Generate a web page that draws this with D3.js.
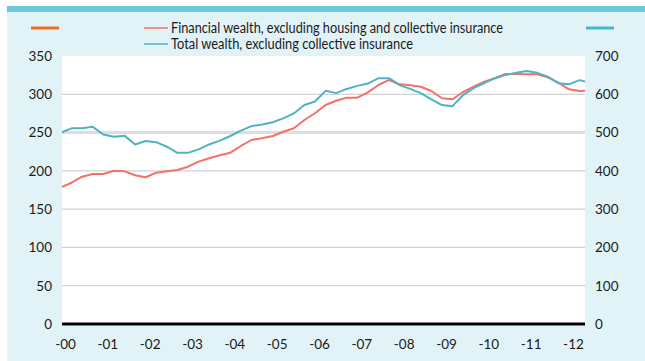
<!DOCTYPE html>
<html>
<head>
<meta charset="utf-8">
<script src="https://cdn.jsdelivr.net/npm/d3@7"></script>
<style>
  html, body { margin: 0; padding: 0; background: #ffffff; }
  svg { display: block; }
  text { font-family: Lato, "Noto Sans", sans-serif; fill: #1a1a1a; }
</style>
</head>
<body>
<svg id="chart" width="645" height="361"></svg>
<script>
// Quarterly observations, 2000 Q1 onwards
const startYear = 2000;
// Financial wealth, excluding housing and collective insurance (left axis)
const financialWealth = [
  178.5, 184.5, 192.4, 195.9, 195.9, 200.2, 199.4, 194.2, 191.6, 197.6,
  199.5, 201.1, 205.4, 212.0, 216.4, 220.3, 223.7, 232.5, 240.3, 242.5,
  245.5, 251.1, 255.6, 266.4, 275.2, 286.0, 291.6, 295.6, 295.6, 302.5,
  312.1, 318.7, 313.0, 311.7, 309.9, 304.3, 294.8, 293.5, 303.0, 310.0,
  316.4, 320.9, 326.5, 326.5, 326.3, 326.1, 322.2, 315.1, 306.5, 304.3,
  305.0
];
// Total wealth, excluding collective insurance (right axis)
const totalWealth = [
  500, 511, 511, 515, 495, 489, 492, 469, 478, 475,
  463, 447, 447, 456, 469, 479, 491, 505, 517, 521,
  527, 537, 550, 572, 581, 609, 603, 614, 622, 628,
  642, 642, 624, 614, 603, 587, 572, 569, 598, 616,
  629, 642, 650, 656, 661, 656, 646, 629, 626, 637,
  630
];
const yearTicks = [2000, 2001, 2002, 2003, 2004, 2005, 2006, 2007, 2008, 2009, 2010, 2011, 2012];
const leftTicks = [0, 50, 100, 150, 200, 250, 300, 350];
const rightTicks = [0, 100, 200, 300, 400, 500, 600, 700];
const seriesNames = [
  "Financial wealth, excluding housing and collective insurance",
  "Total wealth, excluding collective insurance"
];

const colors = {
  panel: "#e2f3f8",
  topBar: "#6cc8da",
  financial: "#f4706a",
  total: "#4fb4c0",
  leftMark: "#f36b21",
  rightMark: "#45b9cc",
  grid: "#d2d2d2"
};

const svg = d3.select("#chart");
const plot = { left: 62, right: 585, top: 56, bottom: 324 };

// Panel background and top strip
svg.append("rect").attr("x", 7).attr("y", 12).attr("width", 638).attr("height", 349)
  .attr("fill", colors.panel);
svg.append("rect").attr("x", 7).attr("y", 6).attr("width", 638).attr("height", 6)
  .attr("fill", colors.topBar);
// White plotting area
svg.append("rect").attr("x", plot.left).attr("y", plot.top)
  .attr("width", plot.right - plot.left).attr("height", 270)
  .attr("fill", "#ffffff");

const x = d3.scaleLinear().domain([2000, 2012.5]).range([61, 61 + 12.5 * 42.33]);
const yL = d3.scaleLinear().domain([0, 350]).range([plot.bottom, plot.top]);
const yR = d3.scaleLinear().domain([0, 700]).range([plot.bottom, plot.top]);

// Horizontal gridlines
svg.append("g").selectAll("line")
  .data(leftTicks.filter(v => v > 0 && v < 350))
  .join("line")
  .attr("x1", plot.left).attr("x2", plot.right)
  .attr("y1", d => yL(d)).attr("y2", d => yL(d))
  .attr("stroke", d => d === 250 ? "#dedede" : colors.grid)
  .attr("stroke-width", d => d === 250 ? 3 : 1.2);

// Left axis
const leftAxis = svg.append("g")
  .attr("transform", `translate(${plot.left},0)`)
  .call(d3.axisLeft(yL).tickValues(leftTicks).tickSize(0).tickPadding(10));
leftAxis.select(".domain").remove();
leftAxis.selectAll("text").style("font-size", "13.5px").style("font-family", "Lato, sans-serif").attr("fill", "#1a1a1a");

// Right axis
const rightAxis = svg.append("g")
  .attr("transform", `translate(${plot.right},0)`)
  .call(d3.axisRight(yR).tickValues(rightTicks).tickSize(0).tickPadding(10));
rightAxis.select(".domain").remove();
rightAxis.selectAll("text").style("font-size", "13.5px").style("font-family", "Lato, sans-serif").attr("fill", "#1a1a1a");

// Bottom axis with year labels
const bottomAxis = svg.append("g")
  .attr("transform", `translate(0,${plot.bottom})`)
  .call(d3.axisBottom(x).tickValues(yearTicks).tickSize(0).tickPadding(15)
    .tickFormat(d => "-" + String(d).slice(2)));
bottomAxis.select(".domain").remove();
bottomAxis.selectAll("text").attr("dx", 4)
  .style("font-size", "13.5px").style("font-family", "Lato, sans-serif").attr("fill", "#1a1a1a");

// Series lines, clipped to the plotting area
svg.append("clipPath").attr("id", "plot-clip")
  .append("rect").attr("x", plot.left).attr("y", plot.top - 10)
  .attr("width", plot.right - plot.left).attr("height", plot.bottom - plot.top + 20);

const t = i => startYear + i / 4;
const lineL = d3.line().x((d, i) => x(t(i))).y(d => yL(d));
const lineR = d3.line().x((d, i) => x(t(i))).y(d => yR(d));

const lines = svg.append("g").attr("clip-path", "url(#plot-clip)");
lines.append("path").datum(financialWealth).attr("d", lineL)
  .attr("fill", "none").attr("stroke", colors.financial).attr("stroke-width", 2)
  .attr("stroke-linejoin", "round");
lines.append("path").datum(totalWealth).attr("d", lineR)
  .attr("fill", "none").attr("stroke", colors.total).attr("stroke-width", 2)
  .attr("stroke-linejoin", "round");

// Zero line
svg.append("line")
  .attr("x1", plot.left).attr("x2", plot.right)
  .attr("y1", yL(0)).attr("y2", yL(0))
  .attr("stroke", "#000").attr("stroke-width", 3);

// Axis side markers
svg.append("line").attr("x1", 31).attr("x2", 59).attr("y1", 28).attr("y2", 28)
  .attr("stroke", colors.leftMark).attr("stroke-width", 3);
svg.append("line").attr("x1", 586).attr("x2", 614).attr("y1", 28).attr("y2", 28)
  .attr("stroke", colors.rightMark).attr("stroke-width", 3);

// Legend
const legend = svg.append("g");
const legendRows = [
  { name: seriesNames[0], color: colors.financial, y: 28, width: 332 },
  { name: seriesNames[1], color: colors.total, y: 44, width: 242 }
];
legendRows.forEach(r => {
  legend.append("line").attr("x1", 144).attr("x2", 168).attr("y1", r.y).attr("y2", r.y)
    .attr("stroke", r.color).attr("stroke-width", 1.5);
  legend.append("text").attr("x", 171).attr("y", r.y + 5)
    .style("font-size", "14.5px").style("font-family", "Lato, sans-serif")
    .attr("textLength", r.width).attr("lengthAdjust", "spacingAndGlyphs")
    .text(r.name);
});
</script>
</body>
</html>
